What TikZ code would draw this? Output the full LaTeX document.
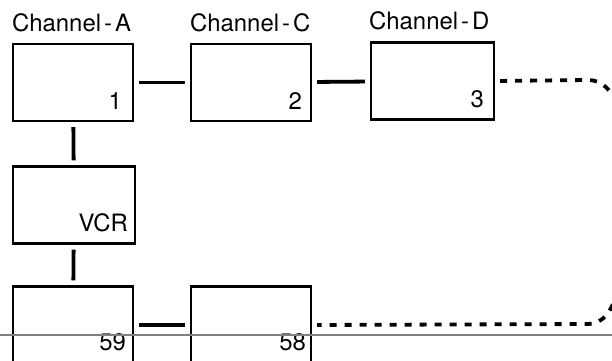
\documentclass[tikz,border=0pt]{standalone}
\usepackage{fontspec}
\setmainfont{TeX Gyre Heros}
\usetikzlibrary{positioning}

\begin{document}
\begin{tikzpicture}[
  x=1bp, y=1bp,
  box/.style={rectangle, draw, line width=2.2bp, minimum width=120bp, minimum height=77bp, inner sep=0pt},
  tag/.style={font=\fontsize{24}{24}\selectfont, inner sep=0pt},
  link/.style={line width=3.8bp, shorten <=5bp, shorten >=5bp},
  wrap/.style={line width=3.8bp, dash pattern=on 7bp off 8bp, shorten <=5bp, shorten >=5bp},
]
\useasboundingbox (0,0) rectangle (612,360);

% Boxes - top row
\node[box] (b1) at (73,  277.5) {};
\node[box] (b2) at (251, 277.5) {};
\node[box, minimum width=123bp] (b3) at (432.5, 279) {};

% Boxes - left column and bottom row
\node[box, minimum width=122bp] (vcr) at (74, 155) {};
\node[box] (b59) at (73,  35) {};
\node[box] (b58) at (251, 35) {};

% Channel names
\node[tag, above right=11bp and 0bp of b1.north west] (chA) {Channel\kern3pt-\kern3pt A};
\node[tag, above right=11bp and 0bp of b2.north west] (chC) {Channel\kern3pt-\kern3pt C};
\node[tag, above right=11bp and -1bp of b3.north west] (chD) {Channel\kern3pt-\kern3pt D};

% Numbers inside the boxes
\node[tag, anchor=base east] (n1)  at ([shift={(-12,13)}]b1.south east) {1};
\node[tag, anchor=base east] (n2)  at ([shift={(-10,13)}]b2.south east) {2};
\node[tag, anchor=base east] (n3)  at ([shift={(-11,13)}]b3.south east) {3};
\node[tag, anchor=base east] (nv)  at ([shift={(-8,13)}]vcr.south east) {VCR};
\node[tag, anchor=base east] (n59) at ([shift={(-8,14)}]b59.south east) {59};
\node[tag, anchor=base east] (n58) at ([shift={(-6,14)}]b58.south east) {58};

% Solid links
\draw[link] (b1) -- (b2);
\draw[link] (b2) -- (b3);
\draw[link] (b1) -- (vcr);
\draw[link] (vcr) -- (b59);
\draw[link] (b59) -- (b58);

% Dashed return path (runs off the right edge)
\coordinate (t1) at (588, 280);
\coordinate (t2) at (618, 255);
\coordinate (u2) at (620, 75);
\coordinate (u1) at (588, 36);
\draw[wrap] (b3.east) -- (t1) .. controls (602,280) and (611,270) .. (t2)
  -- (u2) .. controls (612,48) and (603,36) .. (u1) -- (b58.east);

% Page edge line
\draw[gray, line width=1.2bp] (0,25) -- (612,25);

\end{tikzpicture}
\end{document}
